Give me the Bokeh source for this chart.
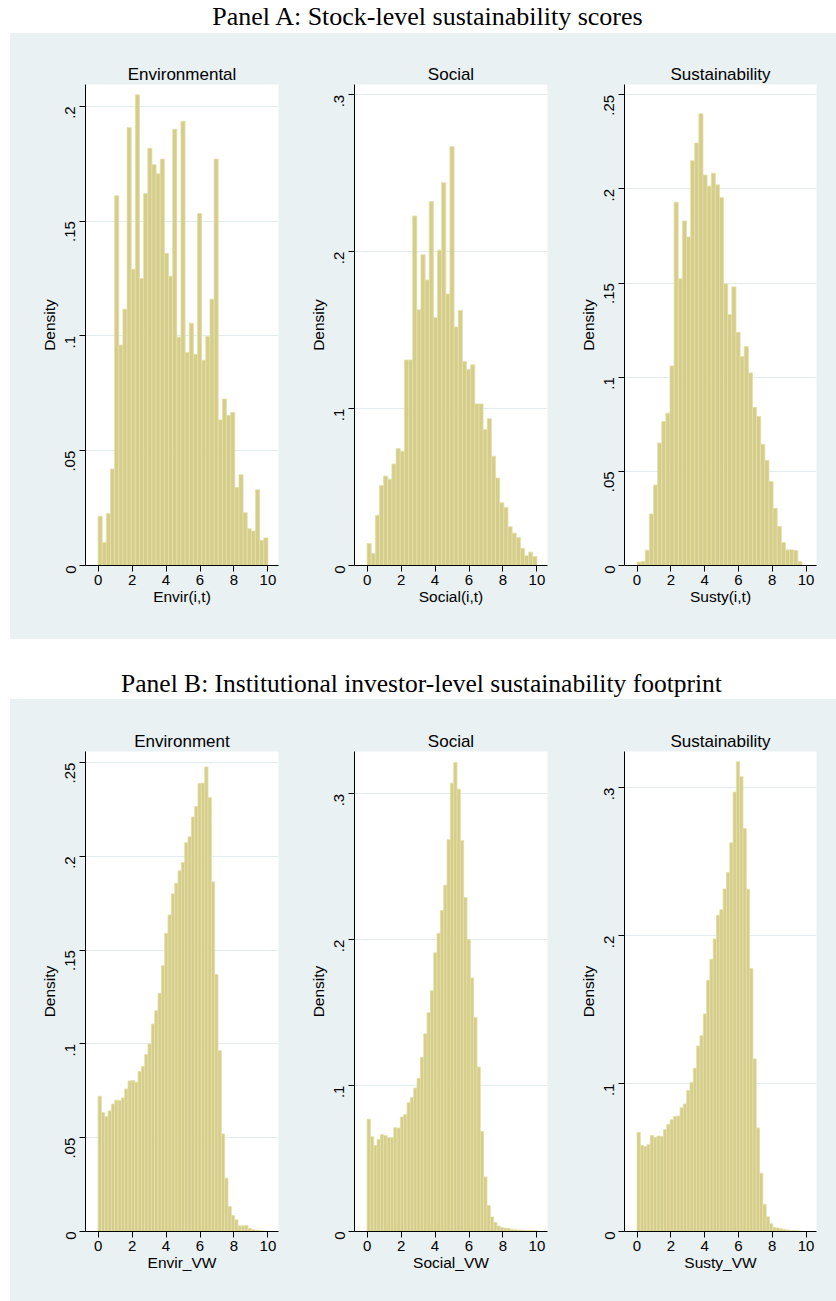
import math
from bokeh.plotting import figure
from bokeh.models import Range1d, FixedTicker, CustomJSTickFormatter, Div, Spacer
from bokeh.layouts import row, column
from bokeh.embed import file_html
from bokeh.resources import INLINE

# ---------------- data (histogram densities) ----------------
panel_titles = ["Panel A: Stock-level sustainability scores",
                "Panel B: Institutional investor-level sustainability footprint"]

subplot_titles_a = ["Environmental", "Social", "Sustainability"]
subplot_titles_b = ["Environment", "Social", "Sustainability"]
xlabels_a = ["Envir(i,t)", "Social(i,t)", "Susty(i,t)"]
xlabels_b = ["Envir_VW", "Social_VW", "Susty_VW"]
x_ticks = [0, 2, 4, 6, 8, 10]

# value range covered by the bins of each histogram
env_a_range = (0.0, 10.0)
social_a_range = (0.0, 10.0)
susty_a_range = (0.0, 9.76)
env_b_range = (0.0, 10.0)
social_b_range = (0.0, 10.0)
susty_b_range = (0.0, 9.8)

env_a = [0.0214, 0.010, 0.0227, 0.042, 0.161, 0.096, 0.1116, 0.1907, 0.129, 0.205,
         0.125, 0.162, 0.1817, 0.1746, 0.1706, 0.177, 0.136, 0.126, 0.190, 0.0994,
         0.1935, 0.0928, 0.1055, 0.092, 0.1533, 0.0894, 0.0997, 0.116, 0.177, 0.0634,
         0.0725, 0.0654, 0.0667, 0.034, 0.0395, 0.023, 0.016, 0.015, 0.033, 0.011, 0.012]

social_a = [0.014, 0.0077, 0.032, 0.051, 0.057, 0.055, 0.0647, 0.0745, 0.0728, 0.131,
            0.131, 0.2228, 0.163, 0.198, 0.182, 0.232, 0.158, 0.201, 0.244, 0.173,
            0.267, 0.152, 0.1625, 0.130, 0.125, 0.128, 0.103, 0.103, 0.0866, 0.0936,
            0.0696, 0.0557, 0.040, 0.037, 0.0247, 0.0206, 0.0179, 0.011, 0.0062, 0.0085, 0.0057]

susty_a = [0.0018, 0.0021, 0.0081, 0.0274, 0.0427, 0.0651, 0.0765, 0.0809, 0.106, 0.193,
           0.1523, 0.183, 0.1745, 0.215, 0.2244, 0.2399, 0.2074, 0.2015, 0.2084, 0.2022,
           0.1955, 0.1496, 0.1333, 0.148, 0.1239, 0.111, 0.1163, 0.1023, 0.084, 0.0791,
           0.0644, 0.0559, 0.0446, 0.0304, 0.0207, 0.0122, 0.0083, 0.0083, 0.0080, 0.0021]

env_b = [0.0721, 0.0634, 0.0613, 0.0643, 0.068, 0.070, 0.0698, 0.0712, 0.076, 0.0803,
         0.0805, 0.0796, 0.0853, 0.088, 0.0943, 0.100, 0.1106, 0.1177, 0.1269, 0.1417,
         0.159, 0.1687, 0.180, 0.1857, 0.1923, 0.1967, 0.2072, 0.2104, 0.221, 0.2266,
         0.2388, 0.239, 0.2477, 0.2314, 0.1864, 0.137, 0.0964, 0.052, 0.0284, 0.0133,
         0.0085, 0.0062, 0.003, 0.003, 0.0032, 0.0016, 0.001, 0.0007, 0.0005, 0.0003, 0.0002]

social_b = [0.077, 0.065, 0.0589, 0.0631, 0.0665, 0.0658, 0.0643, 0.0645, 0.0711, 0.0709,
            0.0785, 0.080, 0.0883, 0.0919, 0.0983, 0.1049, 0.1193, 0.1355, 0.1499, 0.165,
            0.191, 0.2044, 0.220, 0.2374, 0.2685, 0.3073, 0.3215, 0.3032, 0.268, 0.2289,
            0.200, 0.1738, 0.1467, 0.1127, 0.0685, 0.0374, 0.0178, 0.010, 0.0061, 0.0037,
            0.0027, 0.0022, 0.002, 0.0015, 0.0012, 0.001, 0.001, 0.0007, 0.0007, 0.0007, 0.0007]

susty_b = [0.0671, 0.0582, 0.0575, 0.0587, 0.065, 0.0635, 0.0645, 0.0643, 0.0688, 0.0725,
           0.0756, 0.0778, 0.078, 0.0836, 0.0862, 0.0954, 0.1007, 0.1104, 0.1254, 0.1324,
           0.1471, 0.1698, 0.184, 0.1978, 0.2138, 0.2176, 0.2316, 0.2428, 0.2628, 0.2971,
           0.3176, 0.3075, 0.2725, 0.2314, 0.1778, 0.1167, 0.070, 0.0394, 0.0184, 0.0099,
           0.0053, 0.0027, 0.0024, 0.0019, 0.0014, 0.001, 0.0007, 0.0007, 0.0005, 0.0002]

y_ticks_env_a = [0, 0.05, 0.1, 0.15, 0.2]
y_ticks_social_a = [0, 0.1, 0.2, 0.3]
y_ticks_susty_a = [0, 0.05, 0.1, 0.15, 0.2, 0.25]
y_ticks_env_b = [0, 0.05, 0.1, 0.15, 0.2, 0.25]
y_ticks_social_b = [0, 0.1, 0.2, 0.3]
y_ticks_susty_b = [0, 0.1, 0.2, 0.3]

# ---------------- style ----------------
BG = "#e9f1f3"
GRID = "#e2ecef"
BAR_FILL = "#d5cd8b"
BAR_LINE = "#e4dfa6"
SANS = "Liberation Sans"
SERIF = "Liberation Serif"

fmt = CustomJSTickFormatter(code="""
const s = (Math.round(tick * 1000) / 1000).toString();
return s.replace(/^0\\./, '.');
""")


def make_hist(vals, rng, title, xlabel, yticks, ymax, width, bl, br, height, bt, bb):
    n = len(vals)
    lo, hi = rng
    w = (hi - lo) / n
    lefts = [lo + i * w for i in range(n)]
    rights = [lo + (i + 1) * w for i in range(n)]
    p = figure(width=width, height=height,
               x_range=Range1d(-0.74, 10.62), y_range=Range1d(0, ymax),
               min_border_left=bl, min_border_right=br,
               min_border_top=bt, min_border_bottom=bb,
               output_backend="svg", toolbar_location=None,
               background_fill_color="white", border_fill_color=BG,
               outline_line_color=None, title=title)
    p.quad(left=lefts, right=rights, top=vals, bottom=0,
           fill_color=BAR_FILL, line_color=BAR_LINE, line_width=0.8)
    p.title.align = "center"
    p.title.text_font = SANS
    p.title.text_font_size = "17px"
    p.title.text_font_style = "normal"
    p.title.text_color = "black"
    p.title.standoff = 2

    p.xgrid.grid_line_color = None
    p.ygrid.grid_line_color = GRID
    p.ygrid.grid_line_width = 1

    for ax in (p.xaxis[0], p.yaxis[0]):
        ax.axis_line_color = "black"
        ax.axis_line_width = 1
        ax.major_tick_line_color = "black"
        ax.major_tick_out = 6
        ax.major_tick_in = 0
        ax.minor_tick_line_color = None
        ax.major_label_text_font = SANS
        ax.major_label_text_font_size = "15px"
        ax.major_label_text_color = "black"
        ax.axis_label_text_font = SANS
        ax.axis_label_text_font_size = "15.5px"
        ax.axis_label_text_font_style = "normal"
        ax.axis_label_text_color = "black"
        ax.axis_label_standoff = 0

    p.xaxis.major_label_standoff = 3
    p.yaxis.major_label_standoff = 9
    p.xaxis.ticker = FixedTicker(ticks=x_ticks)
    p.xaxis.axis_label = xlabel
    p.yaxis.ticker = FixedTicker(ticks=yticks)
    p.yaxis.formatter = fmt
    p.yaxis.major_label_orientation = math.pi / 2
    p.yaxis.axis_label = "Density"
    return p


HA, TA, BA = 606, 51, 74
HB, TB, BBt = 602, 52, 70
cols = [(275, 75, 7), (270, 69, 8), (281, 69, 20)]

a_sets = [(env_a, env_a_range, y_ticks_env_a, 0.2095),
          (social_a, social_a_range, y_ticks_social_a, 0.3066),
          (susty_a, susty_a_range, y_ticks_susty_a, 0.2555)]
b_sets = [(env_b, env_b_range, y_ticks_env_b, 0.2559),
          (social_b, social_b_range, y_ticks_social_b, 0.329),
          (susty_b, susty_b_range, y_ticks_susty_b, 0.3245)]

figs_a = []
for i, (vals, rng, yt, ym) in enumerate(a_sets):
    w, bl, br = cols[i]
    figs_a.append(make_hist(vals, rng, subplot_titles_a[i], xlabels_a[i], yt, ym,
                            w, bl, br, HA, TA, BA))
figs_b = []
for i, (vals, rng, yt, ym) in enumerate(b_sets):
    w, bl, br = cols[i]
    figs_b.append(make_hist(vals, rng, subplot_titles_b[i], xlabels_b[i], yt, ym,
                            w, bl, br, HB, TB, BBt))


def title_div(text, h, pad_left, size):
    html = ('<div style="box-sizing:border-box;width:836px;padding-left:%dpx;'
            'text-align:center;font-family:\'%s\';font-size:%spx;line-height:%dpx;'
            'color:black;white-space:nowrap">%s</div>'
            % (pad_left, SERIF, size, h, text))
    return Div(text=html, width=836, height=h, margin=0)


def panel_row(figs, h):
    inner = row(*figs, spacing=0, styles={"background-color": BG})
    return row(Spacer(width=10, height=h, margin=0), inner, spacing=0)


layout = column(
    title_div(panel_titles[0], 33, 19, 26),
    panel_row(figs_a, HA),
    Spacer(width=836, height=30, margin=0),
    title_div(panel_titles[1], 30, 7, 25.5),
    panel_row(figs_b, HB),
    spacing=0,
)

open("out.html", "w").write(file_html(layout, INLINE, title="Sustainability histograms"))
